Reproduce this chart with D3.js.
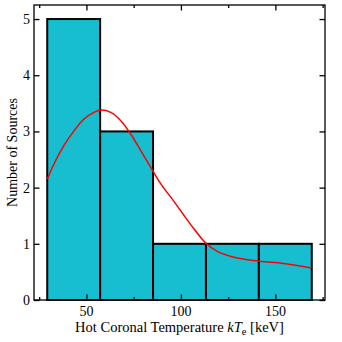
<!DOCTYPE html>
<html>
<head>
<meta charset="utf-8">
<script src="https://cdn.jsdelivr.net/npm/d3@7"></script>
<style>
  body { margin: 0; background: #fff; }
  text { font-family: "Liberation Serif", "DejaVu Serif", serif; fill: #000; }
</style>
</head>
<body>
<div id="chart"></div>
<script>
// histogram of kT_e values
var binEdges = [29.25, 57.25, 85.25, 113.25, 141.25, 169.25];
var counts = [5, 3, 1, 1, 1];

// smoothed density curve
var kdeX = [29.25, 32.8, 38.1, 43.4, 48.7, 54.0, 57.9, 62.9, 68.2, 73.5, 78.9, 84.2, 89.1, 96.2, 105.0, 113.5, 119.5, 126.0, 133.0, 141.7, 154.4, 169.25];
var kdeY = [2.15, 2.42, 2.75, 3.01, 3.22, 3.34, 3.38, 3.34, 3.19, 2.95, 2.65, 2.35, 2.08, 1.76, 1.35, 1.00, 0.86, 0.78, 0.73, 0.69, 0.65, 0.57];

var xMajor = [50, 100, 150];
var xMinor = [25, 75, 125, 175];
var yTicks = [0, 1, 2, 3, 4, 5];

var width = 342,
    height = 342,
    pLeft = 34, pRight = 325, pTop = 5, pBottom = 300;

var svg = d3.select('#chart').append('svg').attr('width', width).attr('height', height);

var xScale = d3.scaleLinear().domain([22.25, 176.25]).range([pLeft, pRight]);
var yScale = d3.scaleLinear().domain([0, 5.25]).range([pBottom, pTop]);

var bins = counts.map(function(c, i) {
  return { x0: binEdges[i], x1: binEdges[i + 1], n: c };
});

// bars
svg.append('g').selectAll('rect')
  .data(bins)
  .enter().append('rect')
  .attr('x', function(d) { return xScale(d.x0); })
  .attr('y', function(d) { return yScale(d.n); })
  .attr('width', function(d) { return xScale(d.x1) - xScale(d.x0); })
  .attr('height', function(d) { return yScale(0) - yScale(d.n); })
  .attr('fill', '#17becf')
  .attr('stroke', '#000')
  .attr('stroke-width', 2);

// inward ticks on all sides
var major = 5.5, minor = 3;
function tickAxis(axis, len) {
  return axis.tickSize(-len).tickSizeOuter(0).tickFormat('');
}
svg.append('g').attr('class', 'tk').attr('transform', 'translate(0,' + pBottom + ')')
  .call(tickAxis(d3.axisBottom(xScale).tickValues(xMajor), major));
svg.append('g').attr('class', 'tk').attr('transform', 'translate(0,' + pBottom + ')')
  .call(tickAxis(d3.axisBottom(xScale).tickValues(xMinor), minor));
svg.append('g').attr('class', 'tk').attr('transform', 'translate(0,' + pTop + ')')
  .call(tickAxis(d3.axisTop(xScale).tickValues(xMajor), major));
svg.append('g').attr('class', 'tk').attr('transform', 'translate(0,' + pTop + ')')
  .call(tickAxis(d3.axisTop(xScale).tickValues(xMinor), minor));
svg.append('g').attr('class', 'tk').attr('transform', 'translate(' + pLeft + ',0)')
  .call(tickAxis(d3.axisLeft(yScale).tickValues(yTicks), major));
svg.append('g').attr('class', 'tk').attr('transform', 'translate(' + pRight + ',0)')
  .call(tickAxis(d3.axisRight(yScale).tickValues(yTicks), major));
svg.selectAll('.tk .domain').remove();
svg.selectAll('.tk line').attr('stroke', '#000').attr('stroke-width', 1.3);

// density curve
var line = d3.line()
  .x(function(d) { return xScale(d[0]); })
  .y(function(d) { return yScale(d[1]); })
  .curve(d3.curveMonotoneX);

svg.append('path')
  .attr('d', line(d3.zip(kdeX, kdeY)))
  .attr('fill', 'none')
  .attr('stroke', '#ff0000')
  .attr('stroke-width', 1.5);

// frame
svg.append('rect')
  .attr('x', pLeft).attr('y', pTop)
  .attr('width', pRight - pLeft).attr('height', pBottom - pTop)
  .attr('fill', 'none').attr('stroke', '#000').attr('stroke-width', 1.3);

// tick labels
svg.append('g').selectAll('text')
  .data(xMajor)
  .enter().append('text')
  .attr('x', function(d) { return xScale(d); })
  .attr('y', 316)
  .attr('text-anchor', 'middle')
  .attr('font-size', 14)
  .text(function(d) { return d; });

svg.append('g').selectAll('text')
  .data(yTicks)
  .enter().append('text')
  .attr('x', 30)
  .attr('y', function(d) { return yScale(d) + 5; })
  .attr('text-anchor', 'end')
  .attr('font-size', 14)
  .text(function(d) { return d; });

// axis titles
var xl = svg.append('text')
  .attr('x', (pLeft + pRight) / 2)
  .attr('y', 331.5)
  .attr('text-anchor', 'middle')
  .attr('font-size', 14.5);
xl.append('tspan').text('Hot Coronal Temperature ');
xl.append('tspan').attr('font-style', 'italic').text('kT');
xl.append('tspan').attr('font-size', 10.5).attr('dy', 3).text('e');
xl.append('tspan').attr('dy', -3).text(' [keV]');

svg.append('text')
  .attr('transform', 'translate(17,' + (pTop + pBottom) / 2 + ') rotate(-90)')
  .attr('text-anchor', 'middle')
  .attr('font-size', 14)
  .text('Number of Sources');
</script>
</body>
</html>
